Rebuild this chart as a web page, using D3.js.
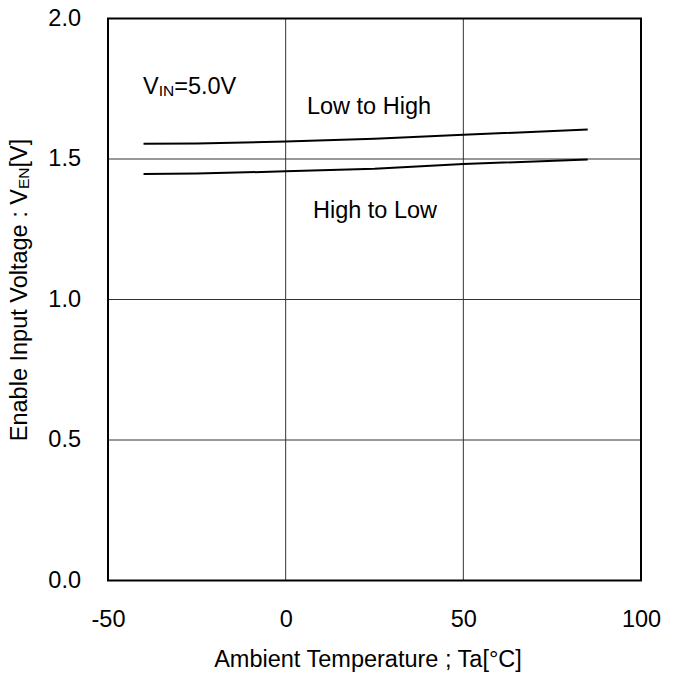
<!DOCTYPE html>
<html><head><meta charset="utf-8">
<script src="https://cdn.jsdelivr.net/npm/d3@7"></script>
<style>body{margin:0;background:#fff}text{font-family:"Liberation Sans",Arial,sans-serif;fill:#000}</style>
</head><body>
<svg id="c" width="682" height="675"></svg>
<script>
const temps = [-40, -25, 0, 25, 50, 85];
const lowToHigh = [1.554, 1.555, 1.562, 1.572, 1.586, 1.605];
const highToLow = [1.447, 1.448, 1.456, 1.465, 1.482, 1.498];
const xTicks = [-50, 0, 50, 100];
const yTicks = [0, 0.5, 1.0, 1.5, 2.0];

const FS = 23.5, SUB = 15.5;
const svg = d3.select("#c");
const L = 108, R = 641, T = 18.5, B = 580.5;
const x = d3.scaleLinear().domain([-50, 100]).range([L, R]);
const y = d3.scaleLinear().domain([0, 2]).range([B, T]);

// grid
svg.append("g").selectAll("line").data(xTicks.slice(1, -1)).join("line")
  .attr("x1", d => x(d)).attr("x2", d => x(d)).attr("y1", T).attr("y2", B)
  .attr("stroke", "#333").attr("stroke-width", 1);
svg.append("g").selectAll("line").data(yTicks.slice(1, -1)).join("line")
  .attr("x1", L).attr("x2", R).attr("y1", d => y(d)).attr("y2", d => y(d))
  .attr("stroke", "#333").attr("stroke-width", 1);

// frame
svg.append("rect").attr("x", L).attr("y", T).attr("width", R - L).attr("height", B - T)
  .attr("fill", "none").attr("stroke", "#000").attr("stroke-width", 2);

// axes labels
const xa = svg.append("g").attr("transform", `translate(0,${B})`)
  .call(d3.axisBottom(x).tickValues(xTicks).tickSize(0).tickPadding(30).tickFormat(d => String(d)));
xa.select(".domain").remove();
xa.attr("font-size", null).attr("font-family", null);
xa.selectAll("text").attr("font-size", FS);

const ya = svg.append("g").attr("transform", `translate(${L},0)`)
  .call(d3.axisLeft(y).tickValues(yTicks).tickSize(0).tickPadding(27).tickFormat(d3.format(".1f")));
ya.select(".domain").remove();
ya.attr("font-size", null).attr("font-family", null);
ya.selectAll("text").attr("font-size", FS).attr("dy", "0.28em");

// lines
const line = d3.line().x((d, i) => x(temps[i])).y(d => y(d));
[lowToHigh, highToLow].forEach(s => {
  svg.append("path").datum(s).attr("d", line).attr("fill", "none")
    .attr("stroke", "#000").attr("stroke-width", 2);
});

// annotations
const vin = svg.append("text").attr("x", 143).attr("y", 94).attr("font-size", FS);
vin.append("tspan").text("V");
vin.append("tspan").attr("font-size", SUB).attr("dy", 2).text("IN");
vin.append("tspan").attr("dy", -2).text("=5.0V");

svg.append("text").attr("x", 369).attr("y", 114).attr("text-anchor", "middle").attr("font-size", FS).text("Low to High");
svg.append("text").attr("x", 375).attr("y", 218).attr("text-anchor", "middle").attr("font-size", FS).text("High to Low");

svg.append("text").attr("x", 368).attr("y", 667).attr("text-anchor", "middle").attr("font-size", FS)
  .text("Ambient Temperature ; Ta[°C]");

const yt = svg.append("text").attr("transform", `translate(27,290) rotate(-90)`)
  .attr("text-anchor", "middle").attr("font-size", FS);
yt.append("tspan").text("Enable Input Voltage : V");
yt.append("tspan").attr("font-size", SUB).attr("dy", 2).text("EN");
yt.append("tspan").attr("dy", -2).text("[V]");
</script>
</body></html>
